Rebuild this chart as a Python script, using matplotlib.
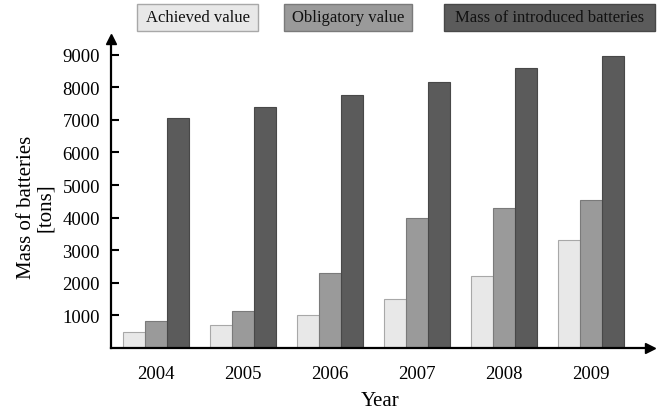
import matplotlib
matplotlib.use("Agg")
import matplotlib.pyplot as plt
from matplotlib.patches import Rectangle
import numpy as np

# ── data ─────────────────────────────────────────────
years     = ["2004", "2005", "2006", "2007", "2008", "2009"]
achieved  = [480, 700, 1000, 1500, 2200, 3300]
obligated = [820, 1150, 2300, 4000, 4300, 4550]
mass      = [7050, 7400, 7750, 8150, 8580, 8960]
labels    = ["Achieved value", "Obligatory value", "Mass of introduced batteries"]
yticks    = list(range(1000, 9001, 1000))

fills  = ["#e8e8e8", "#9a9a9a", "#5b5b5b"]
edges  = ["#a8a8a8", "#7a7a7a", "#484848"]

plt.rcParams["font.family"] = ["Liberation Serif", "DejaVu Serif"]

W, H = 663, 410
fig = plt.figure(figsize=(W / 100, H / 100), dpi=100, facecolor="white")
ax = fig.add_axes([111 / W, 1 - 349 / H, (650 - 111) / W, (349 - 40) / H])

x = np.arange(len(years))
width = 0.253
for i, (vals, fc, ec) in enumerate(zip([achieved, obligated, mass], fills, edges)):
    ax.bar(x + (i - 1) * width, vals, width, color=fc, edgecolor=ec,
           linewidth=0.8, zorder=2)

ax.set_xlim(-0.517, 5.678)
ax.set_ylim(0, 9480)
ax.set_xticks(x)
ax.set_xticklabels(years, fontsize=13.5)
ax.set_yticks(yticks)
ax.set_yticklabels([str(v) for v in yticks], fontsize=13.5)
ax.tick_params(axis="x", length=0, pad=12)
ax.tick_params(axis="y", direction="in", length=5.5, width=1.5, pad=8)

ax.set_xlabel("Year", fontsize=15, labelpad=6.5)
ax.set_ylabel("Mass of batteries\n[tons]", fontsize=15, linespacing=1.0)
ax.yaxis.set_label_coords(-0.104, 0.458)

for s in ["top", "right"]:
    ax.spines[s].set_visible(False)
for s in ["left", "bottom"]:
    ax.spines[s].set_linewidth(1.6)
    ax.spines[s].set_zorder(3)

# axis arrows
ax.plot(1, 0, ">k", markersize=7, transform=ax.transAxes, clip_on=False, zorder=4)
ax.plot(0, 1, "^k", markersize=7, transform=ax.transAxes, clip_on=False, zorder=4)

# legend boxes on top
boxes = [(137, 258), (284, 412), (444, 655)]
for (x0, x1), lab, fc, ec in zip(boxes, labels, fills, edges):
    fig.patches.append(Rectangle((x0 / W, 1 - 32 / H), (x1 - x0) / W, 27 / H,
                                 transform=fig.transFigure, facecolor=fc,
                                 edgecolor=ec, linewidth=1.0))
    fig.text((x0 + x1) / 2 / W, 1 - 18.5 / H, lab, ha="center", va="center",
             fontsize=12, color="#111111")

fig.savefig("out.png", dpi=100, facecolor="white")
